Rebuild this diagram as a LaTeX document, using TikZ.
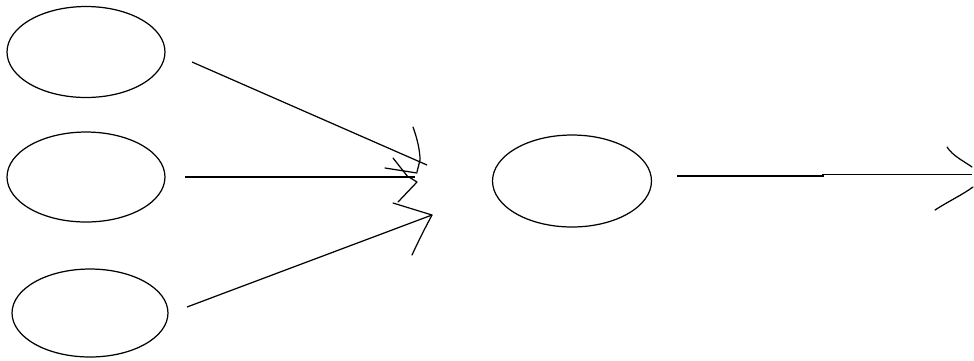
\documentclass[tikz,border=0pt]{standalone}
\usetikzlibrary{shapes.geometric}
\begin{document}
\begin{tikzpicture}[x=0.02cm,y=-0.02cm,
  oval/.style={draw,ellipse,line width=0.7pt,inner sep=0pt},
  conn/.style={line width=0.7pt},
  scrib/.style={line width=0.7pt,line join=round,line cap=round}]
\useasboundingbox (0,0) rectangle (974,360);
\node[oval,minimum width=3.16cm,minimum height=1.82cm] (a) at (86,52) {};
\node[oval,minimum width=3.16cm,minimum height=1.80cm] (b) at (86,177) {};
\node[oval,minimum width=3.12cm,minimum height=1.76cm] (c) at (90,313) {};
\node[oval,minimum width=3.18cm,minimum height=1.84cm] (m) at (572,181) {};
% connector endpoints
\coordinate (a1) at (192,62);
\coordinate (a2) at (427,165);
\coordinate (b1) at (185,177);
\coordinate (b2) at (415,177);
\coordinate (c1) at (187,307);
\coordinate (c2) at (432,215);
\coordinate (m1) at (677,176);
\coordinate (mk) at (823,176);
\coordinate (mk2) at (823,174.7);
\coordinate (m2) at (972,174.7);
\draw[conn] (a1) -- (a2);
\draw[conn] (b1) -- (b2);
\draw[conn] (c1) -- (c2);
\draw[conn] (m1) -- (mk) -- (mk2) -- (m2);
% hand-drawn arrowheads
\draw[scrib] (413,127) .. controls (417,138) and (420,150) .. (420,160) -- (417,172);
\draw[scrib] (385,168) -- (417,173);
\draw[scrib] (393,158) -- (408,177);
\draw[scrib] (409,177) -- (417,182) -- (398,202);
\draw[scrib] (393,203) -- (432,215) .. controls (425,228) and (418,242) .. (412,255);
\draw[scrib] (947,147) .. controls (953,156) and (962,160) .. (972,167);
\draw[scrib] (973,187) .. controls (962,195) and (949,201) .. (935,210);
\end{tikzpicture}
\end{document}
